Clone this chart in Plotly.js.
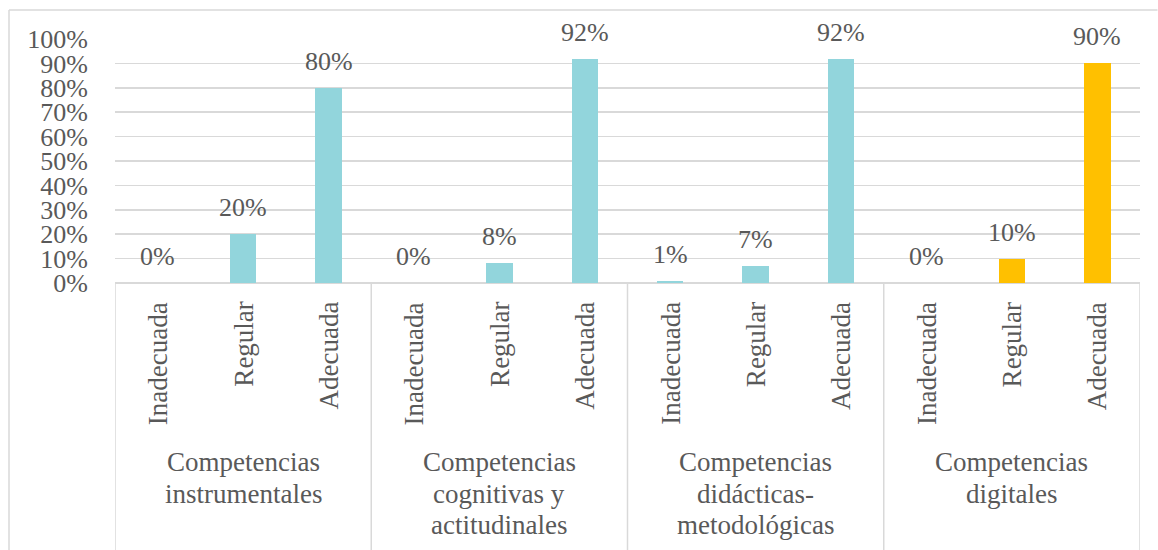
<!DOCTYPE html>
<html>
<head>
<meta charset="utf-8">
<script src="https://cdn.plot.ly/plotly-3.0.1.min.js"></script>
<style>
html,body{margin:0;padding:0;background:#fff;}
#chart{width:1158px;height:550px;}
</style>
</head>
<body>
<div id="chart"></div>
<script>
// ---- data ----
const groups = [
  "Competencias<br>instrumentales",
  "Competencias<br>cognitivas y<br>actitudinales",
  "Competencias<br>didácticas-<br>metodológicas",
  "Competencias<br>digitales"
];
const levels = ["Inadecuada", "Regular", "Adecuada"];
const valInstrumentales = [0, 20, 80];
const valCognitivas = [0, 8, 92];
const valDidacticas = [1, 7, 92];
const valDigitales = [0, 10, 90];
const yTicks = [0, 10, 20, 30, 40, 50, 60, 70, 80, 90, 100];

const groupValues = [valInstrumentales, valCognitivas, valDidacticas, valDigitales];
const groupColors = ["#92D5DC", "#92D5DC", "#92D5DC", "#FFC000"];

// ---- layout geometry (pixels) ----
const W = 1158, H = 550;
const L = 115, R = 1140, T = 39, B = 283;
const px = x => (x - L) / (R - L);
const py = y => (B - y) / (B - T);
const textColor = "#595959";
const lineColor = "#D9D9D9";
const FONT = "Liberation Serif, Times New Roman, serif";

const xs = [], ys = [], cols = [];
groupValues.forEach((vals, g) => {
  vals.forEach((v, i) => {
    xs.push(g * levels.length + i);
    ys.push(v);
    cols.push(groupColors[g]);
  });
});

const trace = {
  type: "bar",
  x: xs,
  y: ys,
  width: 0.31,
  marker: {color: cols},
  hoverinfo: "skip",
  showlegend: false
};

const annotations = [];
// value labels
xs.forEach((x, k) => {
  annotations.push({
    x: x, y: ys[k], xref: "x", yref: "y",
    text: ys[k] + "%", showarrow: false,
    xanchor: "center", yanchor: "bottom", yshift: 10,
    font: {family: FONT, size: 26, color: textColor}
  });
});
// rotated level labels
xs.forEach((x, k) => {
  annotations.push({
    x: x, y: py(300), xref: "x", yref: "paper",
    text: levels[k % levels.length], showarrow: false,
    textangle: -90, xanchor: "center", yanchor: "top",
    font: {family: FONT, size: 27, color: textColor}
  });
});
// group labels (one annotation per line)
groups.forEach((gl, g) => {
  const lines = gl.split("<br>");
  lines.forEach((ln, j) => {
    annotations.push({
      x: g * levels.length + 1, y: py(462 + j * 31.7), xref: "x", yref: "paper",
      text: ln, showarrow: false, xanchor: "center", yanchor: "middle",
      font: {family: FONT, size: 27, color: textColor}
    });
  });
});

const shapes = [];
// outer chart border
shapes.push({type: "line", xref: "paper", yref: "paper", x0: px(9), x1: px(1157.5), y0: py(10), y1: py(10), line: {color: lineColor, width: 1.5}});
shapes.push({type: "line", xref: "paper", yref: "paper", x0: px(9), x1: px(9), y0: py(10), y1: py(560), line: {color: lineColor, width: 1.5}});
// category separators
for (let g = 0; g <= groups.length; g++) {
  const xv = g * levels.length - 0.5;
  shapes.push({type: "line", xref: "x", yref: "paper", x0: xv, x1: xv, y0: 0, y1: py(560), line: {color: lineColor, width: 1.5}});
}

const layout = {
  width: W, height: H,
  margin: {l: L, r: W - R, t: T, b: H - B, pad: 0},
  paper_bgcolor: "#ffffff",
  plot_bgcolor: "#ffffff",
  bargap: 0,
  xaxis: {
    range: [-0.5, groups.length * levels.length - 0.5],
    showticklabels: false, showgrid: false, zeroline: false, showline: false, ticks: "",
    fixedrange: true
  },
  yaxis: {
    range: [0, 100],
    tickvals: yTicks,
    ticktext: yTicks.map(v => v + "%"),
    showgrid: true, gridcolor: lineColor, gridwidth: 1.5,
    zeroline: true, zerolinecolor: lineColor, zerolinewidth: 1.5,
    showline: false, ticks: "",
    ticklabelstandoff: 26,
    tickfont: {family: FONT, size: 26, color: textColor},
    fixedrange: true
  },
  annotations: annotations,
  shapes: shapes
};

Plotly.newPlot("chart", [trace], layout, {displayModeBar: false, staticPlot: true});
</script>
</body>
</html>
